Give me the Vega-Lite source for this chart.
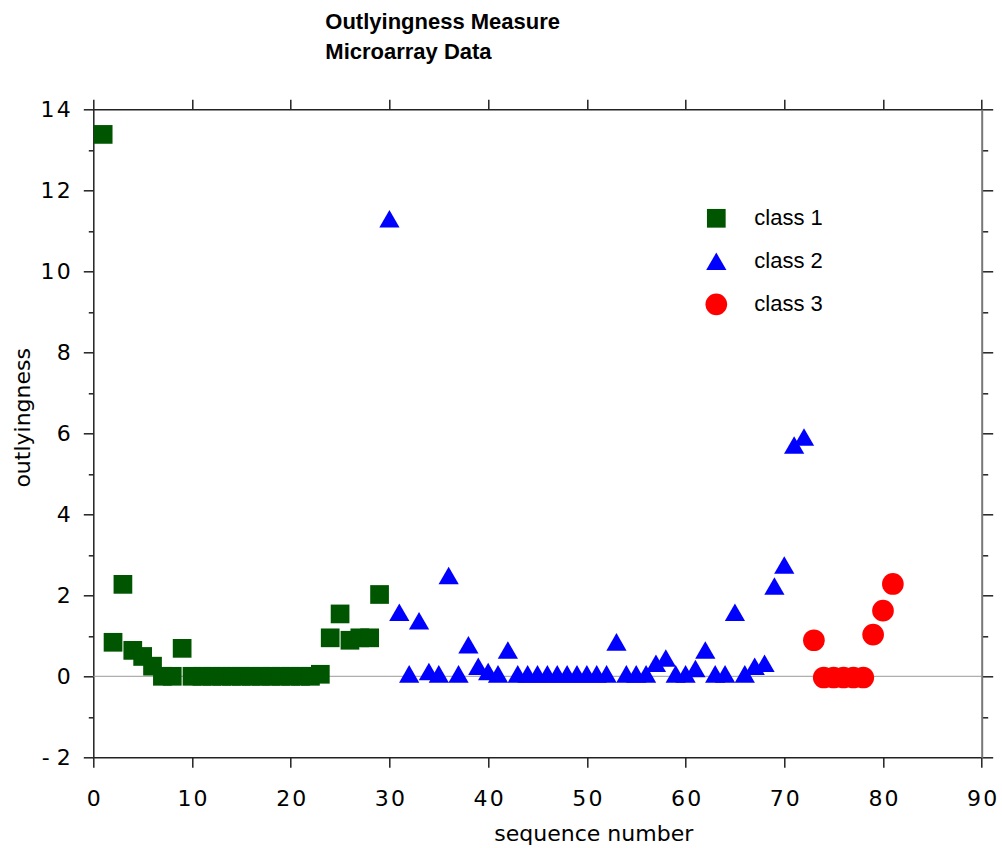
{
  "$schema": "https://vega.github.io/schema/vega-lite/v6.json",
  "autosize": {"type": "none"},
  "padding": {"left": 93.3, "top": 109.3, "right": 20.3, "bottom": 90.7},
  "width": 888.4,
  "height": 648,
  "background": "white",
  "title": {
    "text": ["Outlyingness Measure", "Microarray Data"],
    "font": "Liberation Sans",
    "fontSize": 22,
    "fontWeight": "bold",
    "color": "black",
    "anchor": "start",
    "frame": "group",
    "dx": 232,
    "dy": -24,
    "lineHeight": 30,
    "offset": 10
  },
  "data": {
    "values": [
      {"seq": 1, "v": 13.38, "cls": "class 1"},
      {"seq": 2, "v": 0.84, "cls": "class 1"},
      {"seq": 3, "v": 2.27, "cls": "class 1"},
      {"seq": 4, "v": 0.64, "cls": "class 1"},
      {"seq": 5, "v": 0.49, "cls": "class 1"},
      {"seq": 6, "v": 0.25, "cls": "class 1"},
      {"seq": 7, "v": 0.0, "cls": "class 1"},
      {"seq": 8, "v": 0.0, "cls": "class 1"},
      {"seq": 9, "v": 0.69, "cls": "class 1"},
      {"seq": 10, "v": 0.0, "cls": "class 1"},
      {"seq": 11, "v": 0.0, "cls": "class 1"},
      {"seq": 12, "v": 0.0, "cls": "class 1"},
      {"seq": 13, "v": 0.0, "cls": "class 1"},
      {"seq": 14, "v": 0.0, "cls": "class 1"},
      {"seq": 15, "v": 0.0, "cls": "class 1"},
      {"seq": 16, "v": 0.0, "cls": "class 1"},
      {"seq": 17, "v": 0.0, "cls": "class 1"},
      {"seq": 18, "v": 0.0, "cls": "class 1"},
      {"seq": 19, "v": 0.0, "cls": "class 1"},
      {"seq": 20, "v": 0.0, "cls": "class 1"},
      {"seq": 21, "v": 0.0, "cls": "class 1"},
      {"seq": 22, "v": 0.0, "cls": "class 1"},
      {"seq": 23, "v": 0.05, "cls": "class 1"},
      {"seq": 24, "v": 0.95, "cls": "class 1"},
      {"seq": 25, "v": 1.54, "cls": "class 1"},
      {"seq": 26, "v": 0.89, "cls": "class 1"},
      {"seq": 27, "v": 0.95, "cls": "class 1"},
      {"seq": 28, "v": 0.95, "cls": "class 1"},
      {"seq": 29, "v": 2.02, "cls": "class 1"},
      {"seq": 30, "v": 11.3, "cls": "class 2"},
      {"seq": 31, "v": 1.58, "cls": "class 2"},
      {"seq": 32, "v": 0.06, "cls": "class 2"},
      {"seq": 33, "v": 1.37, "cls": "class 2"},
      {"seq": 34, "v": 0.12, "cls": "class 2"},
      {"seq": 35, "v": 0.06, "cls": "class 2"},
      {"seq": 36, "v": 2.49, "cls": "class 2"},
      {"seq": 37, "v": 0.06, "cls": "class 2"},
      {"seq": 38, "v": 0.78, "cls": "class 2"},
      {"seq": 39, "v": 0.25, "cls": "class 2"},
      {"seq": 40, "v": 0.12, "cls": "class 2"},
      {"seq": 41, "v": 0.06, "cls": "class 2"},
      {"seq": 42, "v": 0.65, "cls": "class 2"},
      {"seq": 43, "v": 0.06, "cls": "class 2"},
      {"seq": 44, "v": 0.06, "cls": "class 2"},
      {"seq": 45, "v": 0.06, "cls": "class 2"},
      {"seq": 46, "v": 0.06, "cls": "class 2"},
      {"seq": 47, "v": 0.06, "cls": "class 2"},
      {"seq": 48, "v": 0.06, "cls": "class 2"},
      {"seq": 49, "v": 0.06, "cls": "class 2"},
      {"seq": 50, "v": 0.06, "cls": "class 2"},
      {"seq": 51, "v": 0.06, "cls": "class 2"},
      {"seq": 52, "v": 0.06, "cls": "class 2"},
      {"seq": 53, "v": 0.85, "cls": "class 2"},
      {"seq": 54, "v": 0.06, "cls": "class 2"},
      {"seq": 55, "v": 0.06, "cls": "class 2"},
      {"seq": 56, "v": 0.06, "cls": "class 2"},
      {"seq": 57, "v": 0.32, "cls": "class 2"},
      {"seq": 58, "v": 0.45, "cls": "class 2"},
      {"seq": 59, "v": 0.06, "cls": "class 2"},
      {"seq": 60, "v": 0.06, "cls": "class 2"},
      {"seq": 61, "v": 0.19, "cls": "class 2"},
      {"seq": 62, "v": 0.65, "cls": "class 2"},
      {"seq": 63, "v": 0.06, "cls": "class 2"},
      {"seq": 64, "v": 0.06, "cls": "class 2"},
      {"seq": 65, "v": 1.58, "cls": "class 2"},
      {"seq": 66, "v": 0.06, "cls": "class 2"},
      {"seq": 67, "v": 0.25, "cls": "class 2"},
      {"seq": 68, "v": 0.32, "cls": "class 2"},
      {"seq": 69, "v": 2.23, "cls": "class 2"},
      {"seq": 70, "v": 2.75, "cls": "class 2"},
      {"seq": 71, "v": 5.71, "cls": "class 2"},
      {"seq": 72, "v": 5.91, "cls": "class 2"},
      {"seq": 73, "v": 0.89, "cls": "class 3"},
      {"seq": 74, "v": -0.03, "cls": "class 3"},
      {"seq": 75, "v": -0.03, "cls": "class 3"},
      {"seq": 76, "v": -0.03, "cls": "class 3"},
      {"seq": 77, "v": -0.03, "cls": "class 3"},
      {"seq": 78, "v": -0.03, "cls": "class 3"},
      {"seq": 79, "v": 1.03, "cls": "class 3"},
      {"seq": 80, "v": 1.62, "cls": "class 3"},
      {"seq": 81, "v": 2.28, "cls": "class 3"}
    ]
  },
  "resolve": {"axis": {"x": "independent", "y": "independent"}},
  "layer": [
    {
      "data": {"values": [{"z": 0}]},
      "mark": {"type": "rule", "color": "#9a9a9a", "strokeWidth": 1},
      "encoding": {
        "y": {"field": "z", "type": "quantitative", "scale": {"domain": [-2, 14], "nice": false, "zero": false}, "axis": null}
      }
    },
    {
      "mark": {"type": "point", "filled": true, "opacity": 1, "strokeWidth": 0},
      "encoding": {
        "x": {
          "field": "seq", "type": "quantitative",
          "scale": {"domain": [0, 90], "nice": false, "zero": false},
          "axis": {
            "orient": "bottom",
            "values": [0, 10, 20, 30, 40, 50, 60, 70, 80, 90],
            "tickSize": 10,
            "labelFlush": false,
            "labelOverlap": false,
            "labelPadding": 21,
            "labelFont": "DejaVu Sans",
            "labelFontSize": 22,
            "labelColor": "black",
            "labelExpr": "datum.value >= 10 ? floor(datum.value / 10) + '\u200a' + (datum.value % 10) : datum.label",
            "title": "sequence number",
            "titleFont": "DejaVu Sans",
            "titleFontSize": 22,
            "titleFontWeight": "normal",
            "titleColor": "black",
            "titleAlign": "center",
            "titleBaseline": "alphabetic",
            "titleX": 500,
            "titleY": 83
          }
        },
        "y": {
          "field": "v", "type": "quantitative",
          "scale": {"domain": [-2, 14], "nice": false, "zero": false},
          "axis": {
            "orient": "left",
            "values": [-2, -1, 0, 1, 2, 3, 4, 5, 6, 7, 8, 9, 10, 11, 12, 13, 14],
            "tickSize": {"condition": {"test": "datum.value % 2 == 0", "value": 10}, "value": 5},
            "labelFlush": false,
            "labelOverlap": false,
            "labelPadding": 13,
            "labelFont": "DejaVu Sans",
            "labelFontSize": 22,
            "labelColor": "black",
            "labelExpr": "datum.value % 2 != 0 ? '' : (datum.value == -2 ? '- 2' : (datum.value >= 10 ? '1\u200a' + (datum.value - 10) : datum.label))",
            "title": "outlyingness",
            "titleFont": "DejaVu Sans",
            "titleFontSize": 22,
            "titleFontWeight": "normal",
            "titleColor": "black",
            "titleAngle": -90,
            "titleAlign": "center",
            "titleBaseline": "middle",
            "titleX": -71,
            "titleY": 308
          }
        },
        "color": {
          "field": "cls", "type": "nominal",
          "scale": {"domain": ["class 1", "class 2", "class 3"], "range": ["#005500", "#0000ff", "#ff0000"]}
        },
        "shape": {
          "field": "cls", "type": "nominal",
          "scale": {"domain": ["class 1", "class 2", "class 3"], "range": ["square", "triangle-up", "circle"]}
        },
        "size": {
          "field": "cls", "type": "nominal",
          "scale": {"domain": ["class 1", "class 2", "class 3"], "range": [350, 470, 240]}
        }
      }
    },
    {
      "mark": {"type": "point", "opacity": 0},
      "encoding": {
        "x": {
          "field": "seq", "type": "quantitative",
          "scale": {"domain": [0, 90], "nice": false, "zero": false},
          "axis": {"orient": "top", "values": [0, 10, 20, 30, 40, 50, 60, 70, 80, 90], "tickSize": 10, "labels": false, "title": null}
        },
        "y": {
          "field": "v", "type": "quantitative",
          "scale": {"domain": [-2, 14], "nice": false, "zero": false},
          "axis": {
            "orient": "right",
            "values": [-2, -1, 0, 1, 2, 3, 4, 5, 6, 7, 8, 9, 10, 11, 12, 13, 14],
            "tickSize": {"condition": {"test": "datum.value % 2 == 0", "value": 11}, "value": 6},
            "labels": false,
            "title": null,
            "domainColor": "#777777",
            "domainWidth": 2
          }
        }
      }
    }
  ],
  "config": {
    "view": {"stroke": null},
    "axis": {"grid": false, "domainColor": "#222222", "tickColor": "#222222", "domainWidth": 1.5, "tickWidth": 1.5},
    "legend": {
      "orient": "none",
      "legendX": 612,
      "legendY": 98,
      "title": null,
      "padding": 0,
      "labelFont": "Liberation Sans",
      "labelFontSize": 22,
      "labelColor": "black",
      "labelOffset": 27,
      "rowPadding": 21,
      "symbolStrokeWidth": 0
    }
  }
}
